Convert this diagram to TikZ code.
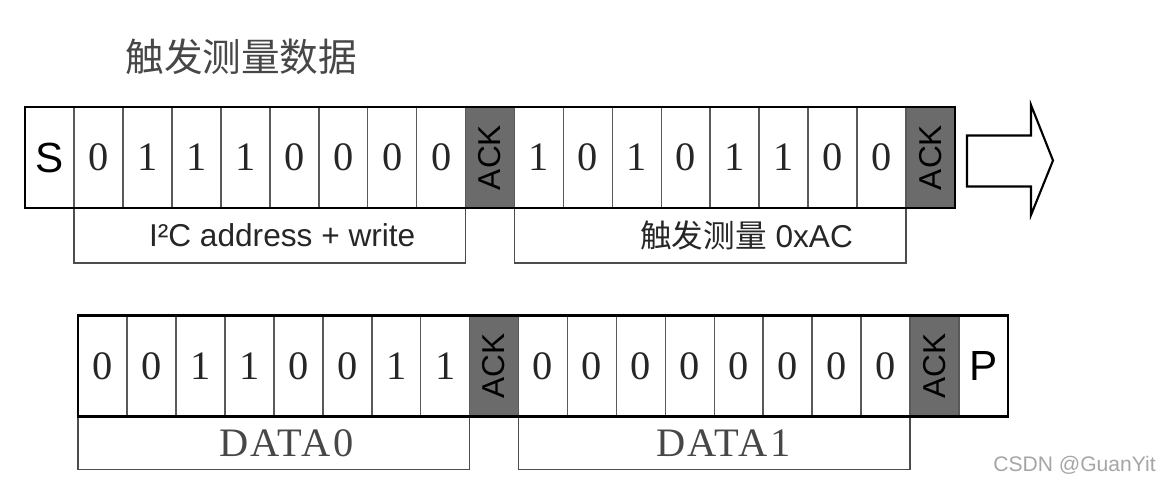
\documentclass[tikz,border=0pt]{standalone}
\usepackage{fontspec}
\setmainfont{Liberation Serif}
\setsansfont{Liberation Sans}
\newfontfamily\cjk{Noto Sans CJK SC}
\newfontfamily\spaced[LetterSpace=6]{Liberation Serif}

\tikzset{
  bit/.style={draw=black!65, line width=0.9pt, minimum width=0.979cm, minimum height=2.02cm,
    inner sep=0pt, outer sep=0pt, text=black!85, font=\fontsize{23}{26}\selectfont},
  sym/.style={bit, text=black, font=\sffamily\fontsize{24}{26}\selectfont},
  ack/.style={bit, fill=black!58, text=black, font=\sffamily\fontsize{18}{20}\selectfont},
  field/.style={draw=black!70, line width=0.8pt, minimum width=7.832cm, inner sep=0pt, outer sep=0pt,
    anchor=north west, text=black!85},
  frame/.style={draw=black, line width=1.6pt}
}

\begin{document}
\begin{tikzpicture}[x=0.02cm,y=-0.02cm]
\useasboundingbox (0,0) rectangle (1159,486);

% title
\node[anchor=west, inner sep=0pt, text=black!72, font=\cjk\fontsize{22}{24}\selectfont] (title) at (125,57) {触发测量数据};

% first row: address byte + command byte
\node[sym] (s) at (49.5,157.5) {S};
\node[bit] (a1) at (98.4,157.5) {0};
\node[bit] (a2) at (147.4,157.5) {1};
\node[bit] (a3) at (196.3,157.5) {1};
\node[bit] (a4) at (245.3,157.5) {1};
\node[bit] (a5) at (294.2,157.5) {0};
\node[bit] (a6) at (343.2,157.5) {0};
\node[bit] (a7) at (392.1,157.5) {0};
\node[bit] (a8) at (441.1,157.5) {0};
\node[ack] (k1) at (490.0,157.5) {\rotatebox{90}{ACK}};
\node[bit] (c1) at (539.0,157.5) {1};
\node[bit] (c2) at (587.9,157.5) {0};
\node[bit] (c3) at (636.9,157.5) {1};
\node[bit] (c4) at (685.8,157.5) {0};
\node[bit] (c5) at (734.8,157.5) {1};
\node[bit] (c6) at (783.7,157.5) {1};
\node[bit] (c7) at (832.7,157.5) {0};
\node[bit] (c8) at (881.6,157.5) {0};
\node[ack] (k2) at (930.6,157.5) {\rotatebox{90}{ACK}};

\node[field, minimum height=1.1cm, font=\sffamily\fontsize{18}{20}\selectfont] (addr) at (a1.south west) {\hspace*{0.5cm}I²C address + write};
\node[field, minimum height=1.1cm, font=\sffamily\fontsize{18}{20}\selectfont] (cmd) at (c1.south west) {\hspace*{1.45cm}{\cjk 触发测量} 0xAC};
\draw[frame] (s.north west) rectangle (k2.south east);

% arrow to the next row
\draw[black, line width=1.2pt, line join=miter, fill=white]
  (967,135.5) -- (1031,135.5) -- (1031,105) -- (1053,160.5) -- (1031,215) -- (1031,186.5) -- (967,186.5) -- cycle;

% second row: data bytes
\node[bit] (d1) at (102.5,366) {0};
\node[bit] (d2) at (151.4,366) {0};
\node[bit] (d3) at (200.4,366) {1};
\node[bit] (d4) at (249.3,366) {1};
\node[bit] (d5) at (298.3,366) {0};
\node[bit] (d6) at (347.2,366) {0};
\node[bit] (d7) at (396.2,366) {1};
\node[bit] (d8) at (445.1,366) {1};
\node[ack] (k3) at (494.1,366) {\rotatebox{90}{ACK}};
\node[bit] (e1) at (543.0,366) {0};
\node[bit] (e2) at (592.0,366) {0};
\node[bit] (e3) at (640.9,366) {0};
\node[bit] (e4) at (689.9,366) {0};
\node[bit] (e5) at (738.8,366) {0};
\node[bit] (e6) at (787.8,366) {0};
\node[bit] (e7) at (836.7,366) {0};
\node[bit] (e8) at (885.7,366) {0};
\node[ack] (k4) at (934.6,366) {\rotatebox{90}{ACK}};
\node[sym] (p) at (983.6,366) {P};

\node[field, minimum height=1.06cm, text=black!72, font=\spaced\fontsize{23}{26}\selectfont] (data0) at (d1.south west) {\hspace*{0.5cm}DATA0};
\node[field, minimum height=1.06cm, text=black!72, font=\spaced\fontsize{23}{26}\selectfont] (data1) at (e1.south west) {\hspace*{0.36cm}DATA1};
\draw[frame] (d1.north west) rectangle (p.south east);

% watermark
\node[anchor=west, inner sep=0pt, text=black!35, font=\sffamily\fontsize{12}{14}\selectfont] (mark) at (993,465) {CSDN @GuanYit};
\end{tikzpicture}
\end{document}
